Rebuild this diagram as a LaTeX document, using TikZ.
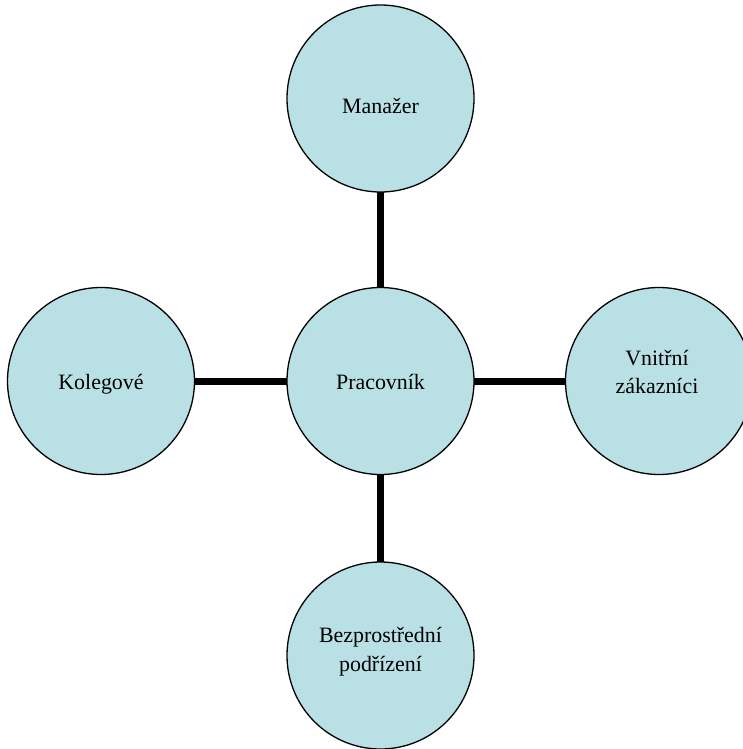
\documentclass[tikz,border=0pt]{standalone}
\usepackage{fontspec}
\setmainfont{Liberation Serif}
\definecolor{bub}{RGB}{185,224,228}
\begin{document}
\begin{tikzpicture}[x=1bp,y=-1bp,
  bubble/.style={circle,draw=black,fill=bub,line width=1.3bp,minimum size=187bp,inner sep=0pt,outer sep=0pt},
  lbl/.style={font=\fontsize{22}{29}\selectfont,align=center,inner sep=0pt},
  link/.style={line width=7bp}]
\useasboundingbox (0,0) rectangle (743,749);
\node[bubble] (top) at (380.5,98.5) {};
\node[bubble] (mid) at (380.5,381) {};
\node[bubble] (left) at (101,381) {};
\node[bubble] (right) at (659,381) {};
\node[bubble] (bot) at (380.5,655.5) {};
\draw[link] (top) -- (mid);
\draw[link] (left) -- (mid);
\draw[link] (mid) -- (right);
\draw[link] (mid) -- (bot);
\node[lbl] (ttop) at (380.5,106) {Manažer};
\node[lbl] (tmid) at (380.5,382) {Pracovník};
\node[lbl] (tleft) at (101,384) {Kolegové};
\node[lbl] (tright) at (657,372) {Vnitřní\\zákazníci};
\node[lbl] (tbot) at (380.5,652) {Bezprostřední\\podřízení};
\end{tikzpicture}
\end{document}
